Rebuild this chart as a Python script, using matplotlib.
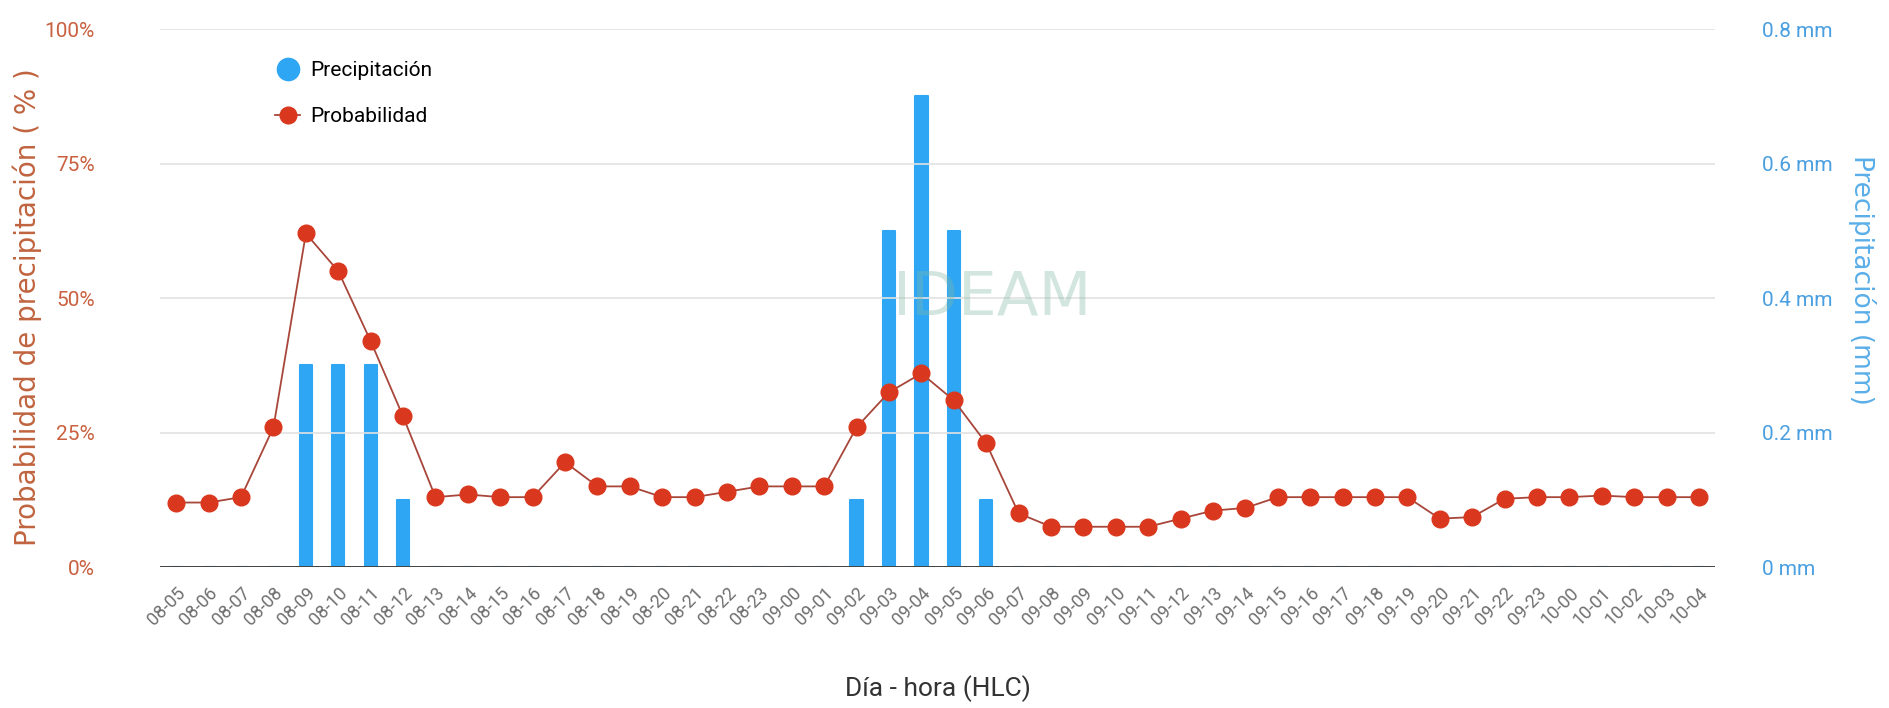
import numpy as np
import matplotlib
matplotlib.use("Agg")
import matplotlib.pyplot as plt
from matplotlib.lines import Line2D

plt.rcParams['font.family'] = ['Roboto', 'DejaVu Sans']

# hourly categories: day-hour
horas = (["08-%02d" % h for h in range(5, 24)] +
         ["09-%02d" % h for h in range(0, 24)] +
         ["10-%02d" % h for h in range(0, 5)])

probabilidad = [12, 12, 13, 26, 62, 55, 42, 28, 13, 13.5, 13, 13, 19.5, 15, 15, 13,
                13, 14, 15, 15, 15, 26, 32.5, 36, 31, 23, 10, 7.5, 7.5, 7.5, 7.5, 9,
                10.5, 11, 13, 13, 13, 13, 13, 9, 9.3, 12.7, 13, 13, 13.3, 13, 13, 13]

precipitacion = [0, 0, 0, 0, 0.3, 0.3, 0.3, 0.1, 0, 0, 0, 0, 0, 0, 0, 0,
                 0, 0, 0, 0, 0, 0.1, 0.5, 0.7, 0.5, 0.1, 0, 0, 0, 0, 0, 0,
                 0, 0, 0, 0, 0, 0, 0, 0, 0, 0, 0, 0, 0, 0, 0, 0]

x = np.arange(len(horas))

fig = plt.figure(figsize=(18.9, 7.08), dpi=100)
ax = fig.add_axes([0.0847, 0.199, 0.8228, 0.760])
ax2 = ax.twinx()

# precipitation bars on the right axis
ax2.bar(x, precipitacion, width=0.38, color='#2ea6f3', edgecolor='#2ea6f3',
        lw=1.5, joinstyle='round', zorder=2)
ax2.set_ylim(0, 0.8)
ax2.set_yticks([0, 0.2, 0.4, 0.6, 0.8])
ax2.set_yticklabels(['0 mm', '0.2 mm', '0.4 mm', '0.6 mm', '0.8 mm'])
ax2.tick_params(axis='y', length=0, pad=34, labelsize=15, labelcolor='#4a9fe0')
ax2.set_ylabel('Precipitación (mm)', rotation=270, color='#5aaee8', fontsize=19,
               family=['DejaVu Sans'], va='center')
ax2.yaxis.set_label_coords(1.0945, 0.533)

# probability line on the left axis, drawn above the bars
ax.set_zorder(ax2.get_zorder() + 1)
ax.patch.set_visible(False)
ax.plot(x, probabilidad, color='#a8463a', lw=1.3, marker='o', ms=12,
        markerfacecolor='#d9381e', markeredgecolor='#d9381e', zorder=3)
ax.set_ylim(0, 100)
ax.set_yticks([0, 25, 50, 75, 100])
ax.set_yticklabels(['0%', '25%', '50%', '75%', '100%'])
ax.tick_params(axis='y', length=0, pad=47, labelsize=15, labelcolor='#c9603f')
ax.set_ylabel('Probabilidad de precipitación ( % )', color='#c0643f', fontsize=20,
              family=['DejaVu Sans'], va='center')
ax.yaxis.set_label_coords(-0.0855, 0.483)
ax.grid(axis='y', color='#e2e2e2', lw=1.2)
ax.set_axisbelow(True)

ax.set_xlim(-0.5, len(horas) - 0.5)
ax.set_xticks(x)
ax.set_xticklabels(horas, rotation=45, ha='right', rotation_mode='anchor',
                   fontsize=13, color='#6f6f6f')
ax.tick_params(axis='x', length=0, pad=12)
ax.set_xlabel('Día - hora (HLC)', fontsize=19, color='#333333')
ax.xaxis.set_label_coords(0.5, -0.2)

for a in (ax, ax2):
    for s in a.spines.values():
        s.set_visible(False)
ax.axhline(0, color='#333333', lw=2, zorder=4)

# faint watermark
ax.text(0.535, 0.50, 'IDEAM', transform=ax.transAxes, ha='center', va='center',
        fontsize=44, color='#7fb8a4', alpha=0.35, family=['DejaVu Sans'], zorder=1)

handles = [Line2D([], [], ls='none', marker='o', ms=16, color='#2ea6f3'),
           Line2D([], [], color='#a8463a', lw=1.3, marker='o', ms=12,
                  markerfacecolor='#d9381e', markeredgecolor='#d9381e')]
ax.legend(handles, ['Precipitación', 'Probabilidad'], loc='upper left',
          bbox_to_anchor=(0.062, 0.975), frameon=False, fontsize=15,
          handlelength=1.2, handletextpad=0.5, labelspacing=1.3)

fig.savefig('out.png', dpi=100)
